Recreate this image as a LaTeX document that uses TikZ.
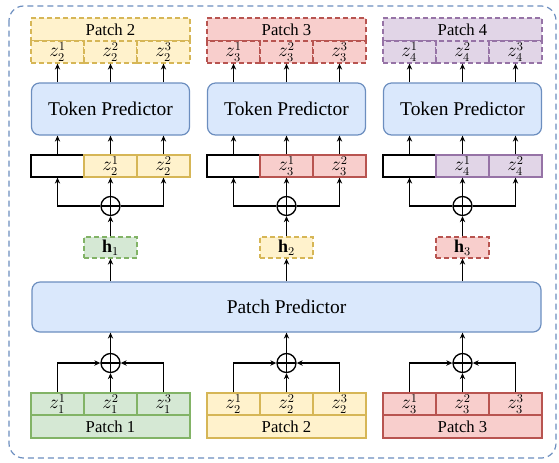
\documentclass[tikz,border=0pt]{standalone}
\usepackage{fontspec}
\setmainfont{Liberation Serif}
\usetikzlibrary{arrows.meta}

\definecolor{grn-fill}{HTML}{D5E8D4}
\definecolor{grn-draw}{HTML}{82B366}
\definecolor{yel-fill}{HTML}{FFF2CC}
\definecolor{yel-draw}{HTML}{D6B656}
\definecolor{red-fill}{HTML}{F8CECC}
\definecolor{red-draw}{HTML}{B85450}
\definecolor{pur-fill}{HTML}{E1D5E7}
\definecolor{pur-draw}{HTML}{9673A6}
\definecolor{blu-fill}{HTML}{DAE8FC}
\definecolor{blu-draw}{HTML}{6C8EBF}

\begin{document}
\begin{tikzpicture}[x=0.75pt, y=-0.75pt, line width=0.9pt,
  cell/.style={draw, line width=0.9pt, inner sep=0pt, minimum width=39.75pt,
    minimum height=16.5pt, font=\fontsize{13.5}{15}\selectfont},
  band/.style={draw, line width=0.9pt, inner sep=0pt, minimum width=119.25pt,
    minimum height=17.25pt, font=\fontsize{12.5}{14}\selectfont},
  dashbox/.style={dash pattern=on 3.5pt off 2.5pt},
  predictor/.style={draw=blu-draw, fill=blu-fill, rounded corners=6pt,
    inner sep=0pt, font=\fontsize{14.6}{17}\selectfont},
  oplus/.style={draw, circle, line width=1pt, inner sep=0pt, minimum size=14.25pt,
    path picture={\draw[line width=1pt] (path picture bounding box.north) -- (path picture bounding box.south)
      (path picture bounding box.west) -- (path picture bounding box.east);}},
  arr/.style={-{Stealth[length=4.5pt, width=4pt]}, line width=1.1pt}]
  \useasboundingbox (0,0) rectangle (559,462);
  \draw[blu-draw, line width=0.9pt, rounded corners=11pt, dash pattern=on 4.5pt off 3pt]
    (9,6) rectangle (556,458);

  \node[predictor, minimum width=381.75pt, minimum height=37.5pt] (pp) at (286.5,307) {Patch Predictor};

  \foreach \k/\L/\cur/\prev/\n/\m in {1/31/yel/grn/2/1, 2/207/red/yel/3/2, 3/383/pur/red/4/3}{
    % patch being predicted
    \node[band, dashbox, draw=\cur-draw, fill=\cur-fill] (tl-\k) at ({\L+79.5},29.5) {Patch \n};
    \foreach \j in {1,2,3}
      \node[cell, dashbox, draw=\cur-draw, fill=\cur-fill] (tz-\k-\j) at ({\L+26.5+53*(\j-1)},52) {$z_{\n}^{\j}$};
    \node[predictor, minimum width=118.5pt, minimum height=39pt] (tp-\k) at ({\L+79.5},109) {Token Predictor};

    % shifted token inputs
    \node[cell, fill=white] (mz-\k-1) at ({\L+26.5},166) {};
    \node[cell, draw=\cur-draw, fill=\cur-fill] (mz-\k-2) at ({\L+79.5},166) {$z_{\n}^{1}$};
    \node[cell, draw=\cur-draw, fill=\cur-fill] (mz-\k-3) at ({\L+132.5},166) {$z_{\n}^{2}$};
    \node[oplus] (mp-\k) at ({\L+79.5},206) {};
    \node[cell, dashbox, draw=\prev-draw, fill=\prev-fill, minimum height=15.75pt] (h-\k) at ({\L+79.5},247.5) {$\mathbf{h}_{\m}$};

    % patch given as input
    \node[oplus] (bp-\k) at ({\L+79.5},363) {};
    \foreach \j in {1,2,3}
      \node[cell, draw=\prev-draw, fill=\prev-fill] (bz-\k-\j) at ({\L+26.5+53*(\j-1)},404) {$z_{\m}^{\j}$};
    \node[band, draw=\prev-draw, fill=\prev-fill] (bl-\k) at ({\L+79.5},426.5) {Patch \m};

    \foreach \j in {1,2,3}{
      \draw[arr] (tz-\k-\j.south |- tp-\k.north) -- (tz-\k-\j.south);
      \draw[arr] (mz-\k-\j.north) -- (mz-\k-\j.north |- tp-\k.south);
    }
    \draw[arr] (mp-\k.west) -| (mz-\k-1.south);
    \draw[arr] (mp-\k.north) -- (mz-\k-2.south);
    \draw[arr] (mp-\k.east) -| (mz-\k-3.south);
    \draw[arr] (h-\k.north) -- (mp-\k.south);
    \draw[arr] (h-\k.south |- pp.north) -- (h-\k.south);

    \draw[arr] (bz-\k-1.north) |- (bp-\k.west);
    \draw[arr] (bz-\k-2.north) -- (bp-\k.south);
    \draw[arr] (bz-\k-3.north) |- (bp-\k.east);
    \draw[arr] (bp-\k.north) -- (bp-\k.north |- pp.south);
  }
\end{tikzpicture}
\end{document}
